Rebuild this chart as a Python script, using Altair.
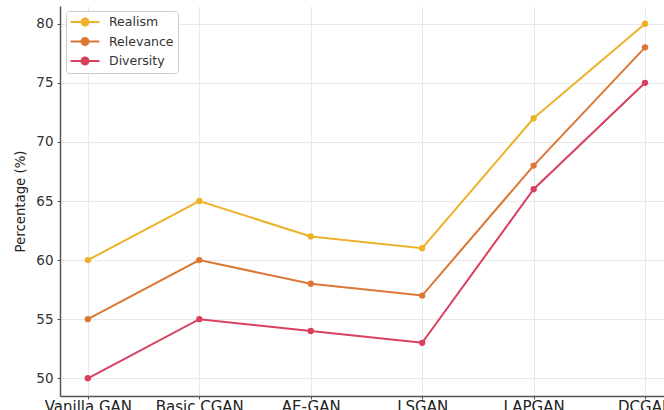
import altair as alt
import pandas as pd

# Model names along the x axis
models = ["Vanilla GAN", "Basic CGAN", "AE-GAN", "LSGAN", "LAPGAN", "DCGAN"]

# Scores (%) for each quality criterion
realism = [60, 65, 62, 61, 72, 80]
relevance = [55, 60, 58, 57, 68, 78]
diversity = [50, 55, 54, 53, 66, 75]

series = ["Realism", "Relevance", "Diversity"]
colors = ["#EDB22A", "#DB7734", "#D8405E"]

FONT = "DejaVu Sans"

rows = []
for name, vals in zip(series, [realism, relevance, diversity]):
    for i, (m, v) in enumerate(zip(models, vals)):
        rows.append({"idx": i, "model": m, "metric": name, "value": v})
df = pd.DataFrame(rows)

label_expr = "[" + ",".join("'%s'" % m for m in models) + "][datum.value]"

# short line with a dot in the middle, used as the legend glyph;
# it is drawn wider than its layout box so rows stay compact
legend_symbol = (
    "M-2.4,0H2.4M-0.58,0A0.58,0.58 0 1,1 0.58,0A0.58,0.58 0 1,1 -0.58,0Z"
)

x = alt.X(
    "idx:Q",
    scale=alt.Scale(domain=[-0.25, 5.17], nice=False, zero=False),
    axis=alt.Axis(
        values=list(range(len(models))),
        labelExpr=label_expr,
        title=None,
        labelFont=FONT,
        labelFontSize=15,
        labelColor="#222222",
        labelPadding=0,
        tickSize=3,
        labelFlush=False,
    ),
)
y = alt.Y(
    "value:Q",
    scale=alt.Scale(domain=[48.5, 81.5], nice=False, zero=False),
    axis=alt.Axis(
        values=[50, 55, 60, 65, 70, 75, 80],
        title="Percentage (%)",
        titleFont=FONT,
        titleFontSize=13.3,
        titleFontWeight="normal",
        titleColor="#222222",
        titlePadding=8,
        labelFont=FONT,
        labelFontSize=13.5,
        labelColor="#333333",
        tickSize=3,
        labelPadding=4,
    ),
)
color = alt.Color(
    "metric:N",
    scale=alt.Scale(domain=series, range=colors),
    sort=series,
    legend=alt.Legend(
        title=None,
        orient="none",
        legendX=6,
        legendY=5,
        symbolType=legend_symbol,
        symbolSize=144,
        symbolStrokeWidth=2,
        symbolOffset=8,
        labelFont=FONT,
        labelFontSize=12.5,
        labelColor="#333333",
        labelOffset=17,
        rowPadding=3.5,
        fillColor="white",
        strokeColor="#cccccc",
        cornerRadius=3,
        padding=4,
    ),
)

lines = alt.Chart(df).mark_line(
    strokeWidth=2, point=alt.OverlayMarkDef(filled=True, size=40, opacity=1)
).encode(x=x, y=y, color=color, detail="metric:N")

chart = (
    lines.properties(
        width=604,
        height=390,
        autosize=alt.AutoSizeParams(type="none"),
        padding={"left": 60, "top": 6, "right": 0, "bottom": 14},
    )
    .configure(background="white", font=FONT)
    .configure_view(stroke=None)
    .configure_axis(
        gridColor="#e3e3e3",
        gridWidth=0.8,
        domainColor="#555555",
        domainWidth=1.5,
        tickColor="#555555",
    )
)

chart.save("out.html", embed_options={"renderer": "svg", "actions": False})
